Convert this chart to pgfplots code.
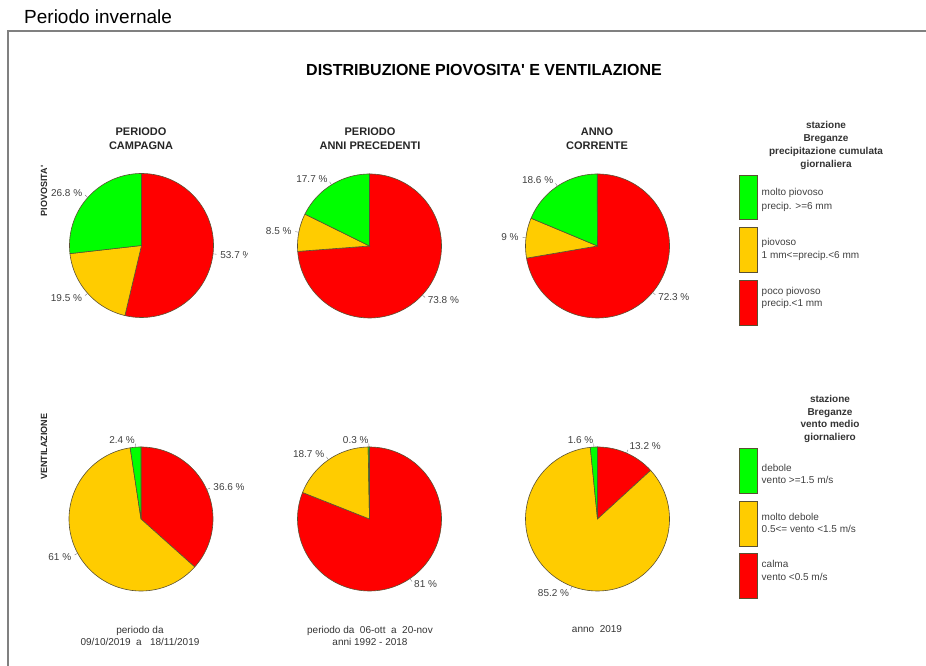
\documentclass[border=0pt]{standalone}
\usepackage{fontspec}
\setmainfont{Liberation Sans}
\usepackage{pgfplots}
\pgfplotsset{compat=1.18}
\definecolor{pgreen}{RGB}{0,255,0}
\definecolor{pyellow}{RGB}{255,204,0}
\definecolor{pred}{RGB}{255,0,0}
\definecolor{edgec}{RGB}{90,80,50}
\newcommand\fs[2]{\fontsize{#1bp}{#2bp}\selectfont}
% pie: #1 cx px, #2 cy px, #3 red %, #4 yellow %, #5 green %
\newcommand{\pie}[5]{%
  \pgfmathsetmacro\aA{90}%
  \pgfmathsetmacro\aB{90-3.6*#3}%
  \pgfmathsetmacro\aC{\aB-3.6*#4}%
  \pgfmathsetmacro\aD{\aC-3.6*#5}%
  \pgfmathsetmacro\mA{(\aA+\aB)/2}%
  \pgfmathsetmacro\mB{(\aB+\aC)/2}%
  \pgfmathsetmacro\mC{(\aC+\aD)/2}%
  \pgfmathparse{cos(\mA)>=0?"west":"east"}\edef\nA{\pgfmathresult}%
  \pgfmathparse{cos(\mB)>=0?"west":"east"}\edef\nB{\pgfmathresult}%
  \pgfmathparse{cos(\mC)>=0?"west":"east"}\edef\nC{\pgfmathresult}%
  \pgfmathsetmacro\cyy{666-#2}%
  \begin{axis}[at={(#1bp,\cyy bp)}, anchor=center, scale only axis,
    width=144bp, height=144bp, xmin=-1, xmax=1, ymin=-1, ymax=1,
    hide axis, clip=false]
    \addplot[fill=pred, draw=edgec, line width=0.6pt, domain=\aB:\aA, samples=120, variable=\t] ({cos(\t)},{sin(\t)}) -- (axis cs:0,0) -- cycle;
    \addplot[fill=pyellow, draw=edgec, line width=0.6pt, domain=\aC:\aB, samples=120, variable=\t] ({cos(\t)},{sin(\t)}) -- (axis cs:0,0) -- cycle;
    \addplot[fill=pgreen, draw=edgec, line width=0.6pt, domain=\aD:\aC, samples=60, variable=\t] ({cos(\t)},{sin(\t)}) -- (axis cs:0,0) -- cycle;
    \draw[gray] (axis cs:{cos(\mA)},{sin(\mA)}) -- (axis cs:{1.05*cos(\mA)},{1.05*sin(\mA)});
    \draw[gray] (axis cs:{cos(\mB)},{sin(\mB)}) -- (axis cs:{1.05*cos(\mB)},{1.05*sin(\mB)});
    \draw[gray] (axis cs:{cos(\mC)},{sin(\mC)}) -- (axis cs:{1.05*cos(\mC)},{1.05*sin(\mC)});
    \node[anchor=\nA, inner sep=0pt, text=black!75, font=\fs{10}{12}] at (axis cs:{1.1*cos(\mA)},{1.1*sin(\mA)}) {#3 \%};
    \node[anchor=\nB, inner sep=0pt, text=black!75, font=\fs{10}{12}] at (axis cs:{1.1*cos(\mB)},{1.1*sin(\mB)}) {#4 \%};
    \node[anchor=\nC, inner sep=0pt, text=black!75, font=\fs{10}{12}] at (axis cs:{1.1*cos(\mC)},{1.1*sin(\mC)}) {#5 \%};
  \end{axis}}
\begin{document}
\begin{tikzpicture}[x=1bp,y=1bp]
\useasboundingbox (0,0) rectangle (926,666);
% frame
\draw[black!50, line width=1.3bp] (8,0) -- (8,666-31) -- (926,666-31);
\node[anchor=west, inner sep=0pt, font=\fs{19}{22}] at (24,666-17) {Periodo invernale};
\node[inner sep=0pt, font=\fs{16}{19}\bfseries] at (484,666-70) {DISTRIBUZIONE PIOVOSITA\textquotesingle{} E VENTILAZIONE};
% column headings
\node[inner sep=0pt, align=center, font=\fs{11}{14}\bfseries, text=black!85] at (141,666-139) {PERIODO\\CAMPAGNA};
\node[inner sep=0pt, align=center, font=\fs{11}{14}\bfseries, text=black!85] at (370,666-139) {PERIODO\\ANNI PRECEDENTI};
\node[inner sep=0pt, align=center, font=\fs{11}{14}\bfseries, text=black!85] at (597,666-139) {ANNO\\CORRENTE};
% row labels
\node[rotate=90, inner sep=0pt, font=\fs{9}{11}\bfseries, text=black!85] at (44,666-191) {PIOVOSITA\textquotesingle};
\node[rotate=90, inner sep=0pt, font=\fs{9}{11}\bfseries, text=black!85] at (44,666-447) {VENTILAZIONE};
% pies
\begin{scope}
\clip (0,0) rectangle (247.5,666);
\pie{141.5}{245.5}{53.7}{19.5}{26.8}
\end{scope}
\pie{369.5}{246}{73.8}{8.5}{17.7}
\pie{597.5}{246}{72.3}{9}{18.6}
\pie{141}{519}{36.6}{61}{2.4}
\pie{369.5}{519}{81}{18.7}{0.3}
\pie{597.5}{519}{13.2}{85.2}{1.6}
% bottom texts
\node[inner sep=0pt, align=center, font=\fs{10}{12.5}, text=black!80] at (140,666-636) {periodo da\\09/10/2019\ \ a\ \ \ 18/11/2019};
\node[inner sep=0pt, align=center, font=\fs{10}{12.5}, text=black!80] at (370,666-636) {periodo da\ \ 06-ott\ \ a\ \ 20-nov\\anni 1992 - 2018};
\node[inner sep=0pt, font=\fs{10}{12}, text=black!80] at (597,666-629) {anno\ \ 2019};
% legend 1
\node[inner sep=0pt, align=center, font=\fs{10}{13}\bfseries, text=black!80] at (826,666-145) {stazione\\Breganze\\precipitazione cumulata\\giornaliera};
\draw[edgec, fill=pgreen, line width=0.6pt] (739.5,666-175) rectangle (757.5,666-219);
\draw[edgec, fill=pyellow, line width=0.6pt] (739.5,666-227.5) rectangle (757.5,666-272);
\draw[edgec, fill=pred, line width=0.6pt] (739.5,666-280) rectangle (757.5,666-325);
\node[anchor=west, inner sep=0pt, align=left, font=\fs{10}{13.5}, text=black!75] at (761.5,666-200) {molto piovoso\\precip. >=6 mm};
\node[anchor=west, inner sep=0pt, align=left, font=\fs{10}{13}, text=black!75] at (761.5,666-249.5) {piovoso\\1 mm<=precip.<6 mm};
\node[anchor=west, inner sep=0pt, align=left, font=\fs{10}{12}, text=black!75] at (761.5,666-298) {poco piovoso\\precip.<1 mm};
% legend 2
\node[inner sep=0pt, align=center, font=\fs{10}{12.6}\bfseries, text=black!80] at (830,666-419) {stazione\\Breganze\\vento medio\\giornaliero};
\draw[edgec, fill=pgreen, line width=0.6pt] (739.5,666-448.5) rectangle (757.5,666-493);
\draw[edgec, fill=pyellow, line width=0.6pt] (739.5,666-501.5) rectangle (757.5,666-546);
\draw[edgec, fill=pred, line width=0.6pt] (739.5,666-553.5) rectangle (757.5,666-598);
\node[anchor=west, inner sep=0pt, align=left, font=\fs{10}{12.7}, text=black!75] at (761.5,666-474) {debole\\vento >=1.5 m/s};
\node[anchor=west, inner sep=0pt, align=left, font=\fs{10}{12}, text=black!75] at (761.5,666-523) {molto debole\\0.5<= vento <1.5 m/s};
\node[anchor=west, inner sep=0pt, align=left, font=\fs{10}{12.7}, text=black!75] at (761.5,666-570.5) {calma\\vento <0.5 m/s};
\end{tikzpicture}
\end{document}
